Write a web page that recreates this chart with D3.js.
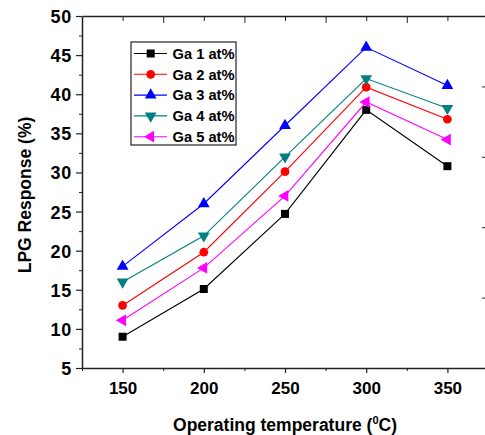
<!DOCTYPE html>
<html>
<head>
<meta charset="utf-8">
<script src="https://cdn.jsdelivr.net/npm/d3@7"></script>
<style>
  body { margin: 0; background: #fff; }
  text { font-family: "Liberation Sans", Arial, sans-serif; font-weight: bold; }
  .axis path, .axis line { stroke: #222; }
</style>
</head>
<body>
<div id="chart"></div>
<script>
// data
var temps = [150, 200, 250, 300, 350];
var ga1 = [9.0, 15.1, 24.7, 38.0, 30.8];
var ga2 = [13.0, 19.8, 30.1, 40.9, 36.8];
var ga3 = [18.0, 26.0, 36.0, 46.0, 41.1];
var ga4 = [16.0, 21.9, 32.0, 42.0, 38.2];
var ga5 = [11.1, 17.8, 27.0, 39.0, 34.2];
var seriesNames = ["Ga 1 at%", "Ga 2 at%", "Ga 3 at%", "Ga 4 at%", "Ga 5 at%"];
var xTicks = [150, 200, 250, 300, 350];
var yTicks = [5, 10, 15, 20, 25, 30, 35, 40, 45, 50];

var colors = ["#000000", "#ff0000", "#0000ff", "#008080", "#ff00ff"];
var shapes = ["square", "circle", "up", "down", "left"];
var allSeries = [ga1, ga2, ga3, ga4, ga5];

var width = 485, height = 435;
var plotL = 82, plotR = 488, plotT = 16, plotB = 368;

var svg = d3.select("#chart").append("svg")
    .attr("width", width)
    .attr("height", height);

var x = d3.scaleLinear().domain([125, 375]).range([plotL, plotR]);
var y = d3.scaleLinear().domain([5, 50]).range([plotB, plotT]);
var yr = d3.scaleLinear().domain([0, 5]).range([plotB, plotT]);

// left axis, minor then major
svg.append("g").attr("class", "axis")
    .attr("transform", "translate(" + plotL + ",0)")
    .call(d3.axisLeft(y).tickValues(d3.range(7.5, 50, 5)).tickSize(3).tickFormat(""))
    .call(function(g){ g.select(".domain").remove(); });
svg.append("g").attr("class", "axis")
    .attr("transform", "translate(" + plotL + ",0)")
    .call(d3.axisLeft(y).tickValues(yTicks).tickSize(6).tickSizeOuter(0).tickPadding(4))
    .call(function(g){
        g.select(".domain").attr("stroke-width", 1.5);
        g.selectAll("line").attr("stroke-width", 1.2);
        g.selectAll("text").attr("font-size", 18).attr("fill", "#000")
            .attr("letter-spacing", 0.8)
            .attr("dy", "0.36em");
    });

// bottom axis
svg.append("g").attr("class", "axis")
    .attr("transform", "translate(0," + plotB + ")")
    .call(d3.axisBottom(x).tickValues(d3.range(125, 376, 50)).tickSize(3).tickFormat(""))
    .call(function(g){ g.select(".domain").remove(); });
svg.append("g").attr("class", "axis")
    .attr("transform", "translate(0," + plotB + ")")
    .call(d3.axisBottom(x).tickValues(xTicks).tickSize(5).tickSizeOuter(0).tickPadding(9))
    .call(function(g){
        g.select(".domain").attr("stroke-width", 1.5);
        g.selectAll("line").attr("stroke-width", 1.2);
        g.selectAll("text").attr("font-size", 17).attr("fill", "#000");
    });

// top axis, ticks pointing inside
svg.append("g").attr("class", "axis")
    .attr("transform", "translate(0," + plotT + ")")
    .call(d3.axisTop(x).tickValues(xTicks).tickSize(-5).tickSizeOuter(0).tickFormat(""))
    .call(function(g){ g.select(".domain").attr("stroke-width", 1.5); });
svg.append("g").attr("class", "axis")
    .attr("transform", "translate(0," + plotT + ")")
    .call(d3.axisTop(x).tickValues(d3.range(175, 376, 50)).tickSize(-7).tickFormat(""))
    .call(function(g){ g.select(".domain").remove(); });

// right axis, ticks pointing inside
svg.append("g").attr("class", "axis")
    .attr("transform", "translate(" + plotR + ",0)")
    .call(d3.axisRight(yr).tickValues([1, 2, 3, 4]).tickSize(-6).tickSizeOuter(0).tickFormat(""))
    .call(function(g){ g.select(".domain").attr("stroke-width", 1.5); });

function symbolPath(shape) {
    if (shape === "square") return d3.symbol(d3.symbolSquare, 64)();
    if (shape === "circle") return d3.symbol(d3.symbolCircle, 60)();
    return d3.symbol(d3.symbolTriangle, 60)();
}
function symbolRotate(shape) {
    if (shape === "down") return " rotate(180)";
    if (shape === "left") return " rotate(-90)";
    return "";
}

var line = d3.line()
    .x(function(d){ return x(d[0]); })
    .y(function(d){ return y(d[1]); });

allSeries.forEach(function(vals, i){
    var pts = temps.map(function(t, j){ return [t, vals[j]]; });
    svg.append("path")
        .datum(pts)
        .attr("d", line)
        .attr("fill", "none")
        .attr("stroke", colors[i])
        .attr("stroke-width", 1.1);
    svg.selectAll(".m" + i)
        .data(pts)
        .enter().append("path")
        .attr("class", "m" + i)
        .attr("d", symbolPath(shapes[i]))
        .attr("transform", function(d){
            return "translate(" + x(d[0]) + "," + y(d[1]) + ")" + symbolRotate(shapes[i]);
        })
        .attr("fill", colors[i]);
});

// legend
var lg = svg.append("g").attr("transform", "translate(131,42)");
lg.append("rect")
    .attr("width", 105).attr("height", 103)
    .attr("fill", "#fff")
    .attr("stroke", "#222")
    .attr("stroke-width", 1.2);
seriesNames.forEach(function(name, i){
    var ry = 11.5 + i * 20.8;
    lg.append("line")
        .attr("x1", 3).attr("x2", 36)
        .attr("y1", ry).attr("y2", ry)
        .attr("stroke", colors[i]).attr("stroke-width", 1.1);
    lg.append("path")
        .attr("d", symbolPath(shapes[i]))
        .attr("transform", "translate(19.7," + ry + ")" + symbolRotate(shapes[i]))
        .attr("fill", colors[i]);
    lg.append("text")
        .attr("x", 41.5).attr("y", ry)
        .attr("dy", "0.36em")
        .attr("font-size", 14.7)
        .attr("fill", "#000")
        .text(name);
});

// axis titles
var xt = svg.append("text")
    .attr("x", (plotL + plotR) / 2)
    .attr("y", 431)
    .attr("text-anchor", "middle")
    .attr("font-size", 17.5)
    .attr("fill", "#000");
xt.append("tspan").text("Operating temperature (");
xt.append("tspan").attr("font-size", 11).attr("dy", -7).text("0");
xt.append("tspan").attr("dy", 7).text("C)");

svg.append("text")
    .attr("transform", "translate(31," + ((plotT + plotB) / 2 + 3) + ") rotate(-90)")
    .attr("text-anchor", "middle")
    .attr("font-size", 17.5)
    .attr("fill", "#000")
    .text("LPG Response (%)");
</script>
</body>
</html>
